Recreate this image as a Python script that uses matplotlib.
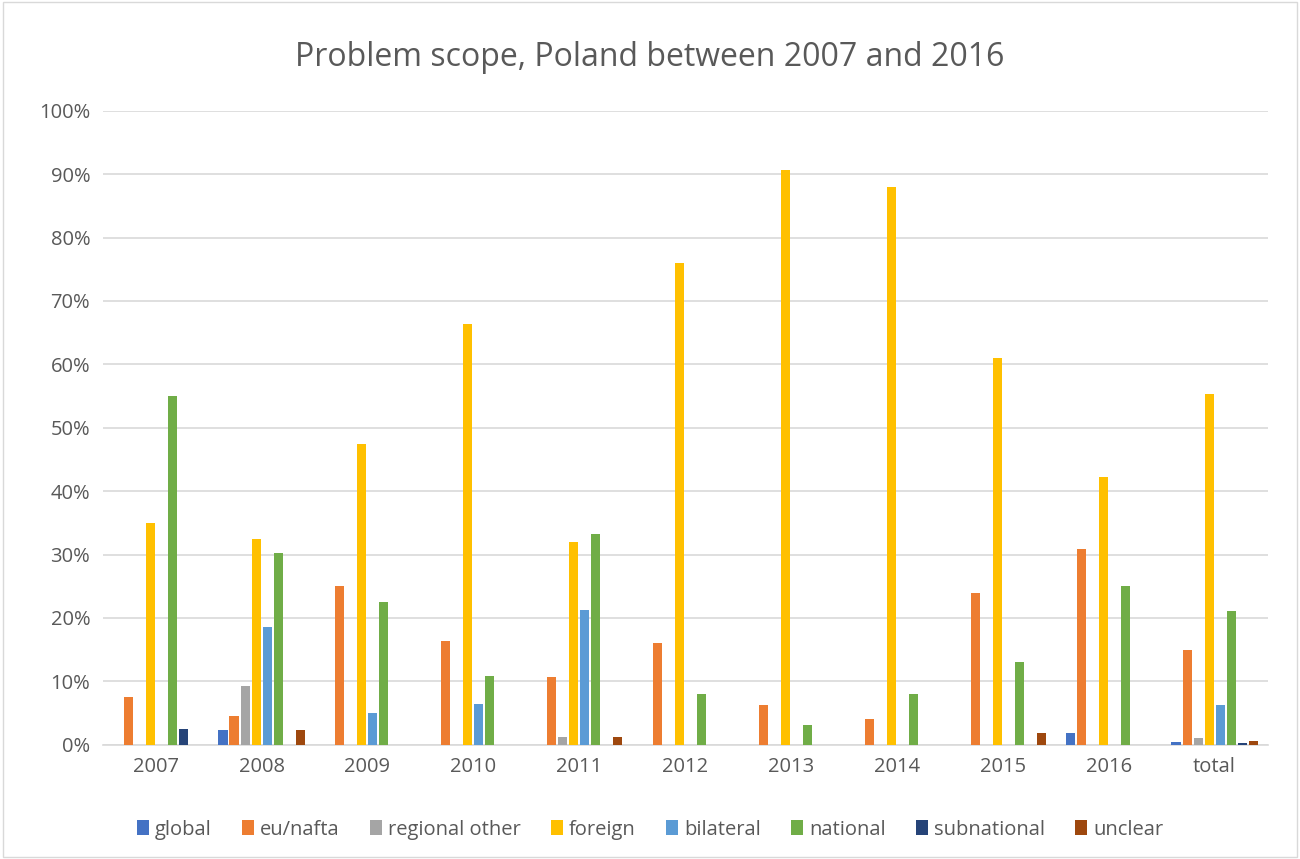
import numpy as np
import matplotlib.pyplot as plt
from matplotlib.patches import Rectangle

plt.rcParams['font.family'] = ['Open Sans', 'DejaVu Sans']

categories = ['2007', '2008', '2009', '2010', '2011', '2012', '2013', '2014', '2015', '2016', 'total']
series = ['global', 'eu/nafta', 'regional other', 'foreign', 'bilateral', 'national', 'subnational', 'unclear']
colors = ['#4472C4', '#ED7D31', '#A5A5A5', '#FFC000', '#5B9BD5', '#70AD47', '#264478', '#9E480E']

global_ = [0, 2.3, 0, 0, 0, 0, 0, 0, 0, 1.9, 0.4]
eu_nafta = [7.5, 4.6, 25, 16.3, 10.7, 16, 6.2, 4, 24, 30.8, 14.9]
regional_other = [0, 9.3, 0, 0, 1.3, 0, 0, 0, 0, 0, 1.0]
foreign = [35, 32.5, 47.5, 66.3, 32, 76, 90.6, 88, 61, 42.3, 55.4]
bilateral = [0, 18.6, 5, 6.5, 21.3, 0, 0, 0, 0, 0, 6.3]
national = [55, 30.2, 22.5, 10.9, 33.3, 8, 3.1, 8, 13, 25, 21.1]
subnational = [2.5, 0, 0, 0, 0, 0, 0, 0, 0, 0, 0.2]
unclear = [0, 2.3, 0, 0, 1.3, 0, 0, 0, 1.9, 0, 0.6]

data = [global_, eu_nafta, regional_other, foreign, bilateral, national, subnational, unclear]

fig = plt.figure(figsize=(13, 8.59), dpi=100)
ax = fig.add_axes([0.079, 0.133, 0.896, 0.738])

x = np.arange(len(categories))
step = 0.104
for i, (name, vals, c) in enumerate(zip(series, data, colors)):
    ax.bar(x + (i - 3.5) * step, vals, width=step * 0.82, color=c, label=name, zorder=3)

ax.set_xlim(-0.5, len(categories) - 0.5)
ax.set_ylim(0, 100)
ax.set_yticks(np.arange(0, 101, 10))
ax.set_yticklabels([f'{v}%' for v in range(0, 101, 10)])
ax.set_xticks(x)
ax.set_xticklabels(categories)
ax.tick_params(colors='#595959', labelsize=14.5, length=0, pad=9)
ax.grid(axis='y', color='#D9D9D9', linewidth=1.2, zorder=0)
for s in ['top', 'right', 'left']:
    ax.spines[s].set_visible(False)
ax.spines['bottom'].set_color('#D9D9D9')
ax.spines['bottom'].set_linewidth(1.2)

fig.suptitle('Problem scope, Poland between 2007 and 2016', y=0.952, fontsize=23, color='#595959')

fig.legend(loc='center', bbox_to_anchor=(0.5, 0.034), ncol=8, frameon=False,
           fontsize=14.5, handlelength=0.6, handleheight=0.8, handletextpad=0.3,
           columnspacing=1.5, labelcolor='#595959')

fig.patches.append(Rectangle((0.002, 0.002), 0.996, 0.996, transform=fig.transFigure,
                             fill=False, edgecolor='#D9D9D9', linewidth=1))

fig.savefig('out.png', dpi=100)
